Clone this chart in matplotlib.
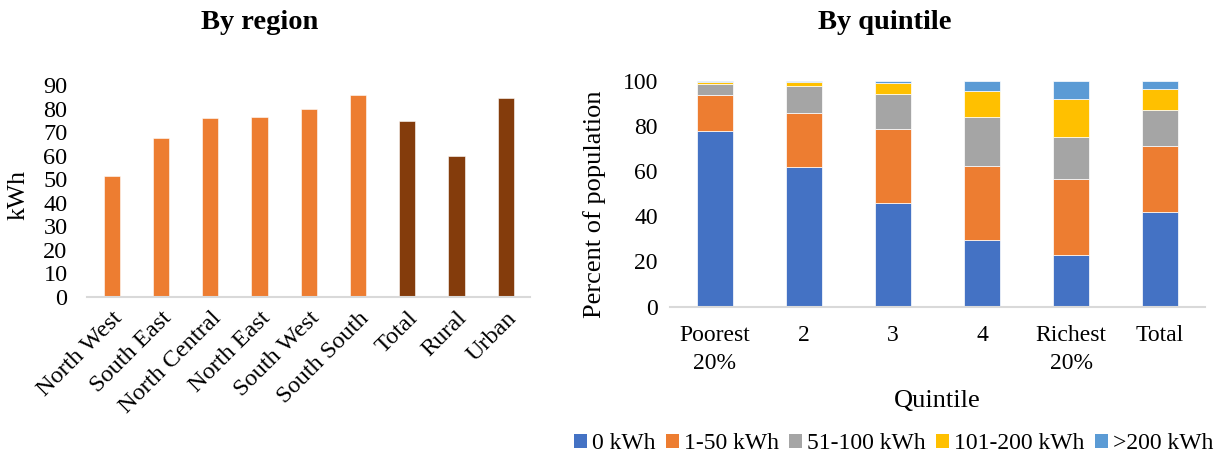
import matplotlib
matplotlib.use("Agg")
import matplotlib.pyplot as plt
from matplotlib.patches import Patch

plt.rcParams['font.family'] = ['Liberation Serif', 'DejaVu Serif']

regions = ["North West", "South East", "North Central", "North East", "South West",
           "South South", "Total", "Rural", "Urban"]
region_kwh = [51.2, 67.4, 76.2, 76.4, 79.8, 85.9, 74.7, 59.7, 84.5]
region_colors = ["#ED7D31"] * 6 + ["#843C0C"] * 3

quintiles = ["Poorest\n20%", "2", "3", "4", "Richest\n20%", "Total"]
series_names = ["0 kWh", "1-50 kWh", "51-100 kWh", "101-200 kWh", ">200 kWh"]
s0 = [78.0, 61.8, 46.1, 29.7, 23.0, 42.0]
s1 = [15.7, 23.9, 32.8, 32.6, 33.7, 29.3]
s2 = [5.0, 12.2, 15.5, 21.9, 18.6, 16.0]
s3 = [0.7, 1.5, 4.7, 11.2, 16.9, 9.0]
s4 = [0.6, 0.6, 0.9, 4.6, 7.8, 3.7]
series = [s0, s1, s2, s3, s4]
series_colors = ["#4472C4", "#ED7D31", "#A5A5A5", "#FFC000", "#5B9BD5"]

fig = plt.figure(figsize=(12.21, 4.59), dpi=100)

# Left chart
ax1 = fig.add_axes([0.0713, 0.354, 0.363, 0.4605])
x1 = list(range(len(regions)))
ax1.bar(x1, region_kwh, width=0.33, color=region_colors, edgecolor='white', linewidth=0.4)
ax1.set_xlim(-0.5, len(regions) - 0.5)
ax1.set_ylim(0, 90)
ax1.set_yticks(range(0, 91, 10))
ax1.set_xticks(x1)
ax1.set_xticklabels(regions, rotation=45, ha='right', rotation_mode='anchor', fontsize=17.5)
ax1.tick_params(axis='both', length=0, labelsize=17.5)
ax1.tick_params(axis='x', pad=8)
ax1.tick_params(axis='y', pad=14)
for s in ['top', 'right', 'left']:
    ax1.spines[s].set_visible(False)
ax1.spines['bottom'].set_color('#D9D9D9')
ax1.spines['bottom'].set_linewidth(1.5)
ax1.set_ylabel("kWh", fontsize=18.5, va='center')
ax1.yaxis.set_label_coords(-0.154, 0.48)
fig.text(0.213, 0.952, "By region", ha='center', va='center', fontsize=20.5, fontweight='bold')

# Right chart
ax2 = fig.add_axes([0.549, 0.332, 0.4376, 0.4917])
x2 = list(range(len(quintiles)))
bottom = [0.0] * len(quintiles)
for vals, col in zip(series, series_colors):
    ax2.bar(x2, vals, bottom=bottom, width=0.4, color=col, edgecolor='#FFFFFF', linewidth=0.5)
    bottom = [b + v for b, v in zip(bottom, vals)]
ax2.set_xlim(-0.5, len(quintiles) - 0.5)
ax2.set_ylim(0, 100)
ax2.set_yticks(range(0, 101, 20))
ax2.set_xticks(x2)
ax2.set_xticklabels(quintiles, fontsize=17, linespacing=1.45)
ax2.tick_params(axis='both', length=0, labelsize=17)
ax2.tick_params(axis='x', pad=13)
ax2.tick_params(axis='y', pad=9)
for s in ['top', 'right', 'left']:
    ax2.spines[s].set_visible(False)
ax2.spines['bottom'].set_color('#D9D9D9')
ax2.spines['bottom'].set_linewidth(1.5)
ax2.set_ylabel("Percent of population", fontsize=19, va='center')
ax2.yaxis.set_label_coords(-0.141, 0.452)
ax2.set_xlabel("Quintile", fontsize=19, va='center')
ax2.xaxis.set_label_coords(0.5, -0.4165)
fig.text(0.7246, 0.952, "By quintile", ha='center', va='center', fontsize=20.5, fontweight='bold')

handles = [Patch(facecolor=c, edgecolor='none') for c in series_colors]
fig.legend(handles, series_names, loc='center', bbox_to_anchor=(0.732, 0.033), ncol=5,
           frameon=False, fontsize=17, handlelength=0.55, handleheight=0.55,
           handletextpad=0.2, columnspacing=0.45, borderpad=0.1)

fig.savefig("out.png", dpi=100)
